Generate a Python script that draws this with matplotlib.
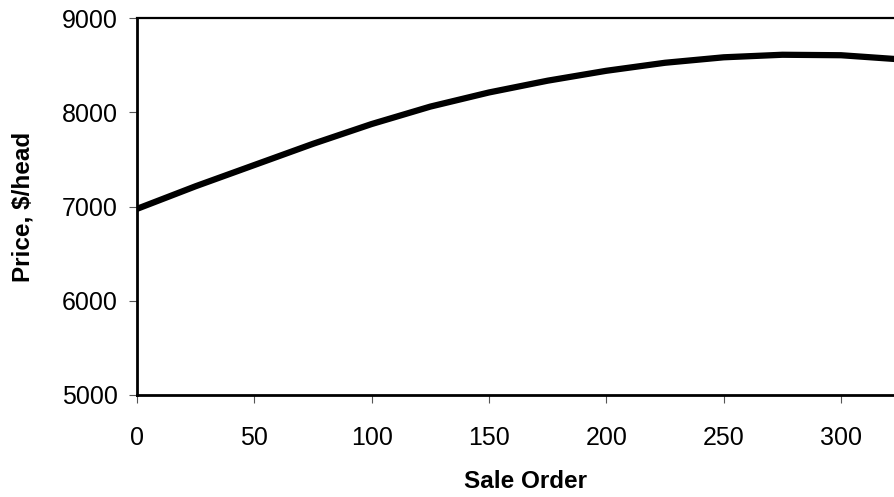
import matplotlib
matplotlib.use("Agg")
import matplotlib.pyplot as plt

plt.rcParams['font.family'] = ['Liberation Sans', 'DejaVu Sans']

sale_order = [0, 25, 50, 75, 100, 125, 150, 175, 200, 225, 250, 275, 300, 323]
price = [6975, 7215, 7440, 7665, 7875, 8060, 8210, 8335, 8440, 8525, 8583, 8610, 8605, 8565]

x_ticks = [0, 50, 100, 150, 200, 250, 300]
y_ticks = [5000, 6000, 7000, 8000, 9000]

fig = plt.figure(figsize=(8.95, 4.97), dpi=100)
ax = fig.add_axes([137/895, 1 - 395/497, 1 - 137/895, (395 - 18)/497])

ax.plot(sale_order, price, color='black', linewidth=4.5, solid_capstyle='butt',
        solid_joinstyle='round')

ax.set_xlim(0, 323)
ax.set_ylim(5000, 9000)
ax.set_xticks(x_ticks)
ax.set_yticks(y_ticks)
ax.set_xticklabels([str(t) for t in x_ticks])
ax.set_yticklabels([str(t) for t in y_ticks])

for s in ['left', 'bottom']:
    ax.spines[s].set_linewidth(2.0)
ax.spines['top'].set_linewidth(1.6)
ax.spines['right'].set_visible(False)

ax.tick_params(axis='both', direction='out', length=6, width=0.8, color='#555555',
               labelsize=18, labelcolor='black')
ax.tick_params(axis='y', pad=8)
ax.tick_params(axis='x', pad=16)

fig.text(23/895, 1 - 207/497, 'Price, $/head', rotation=90, ha='center', va='center',
         fontsize=17.5, fontweight='bold')
fig.text(526/895, 1 - 482/497, 'Sale Order', ha='center', va='center',
         fontsize=17.5, fontweight='bold')

fig.savefig('out.png', dpi=100)
